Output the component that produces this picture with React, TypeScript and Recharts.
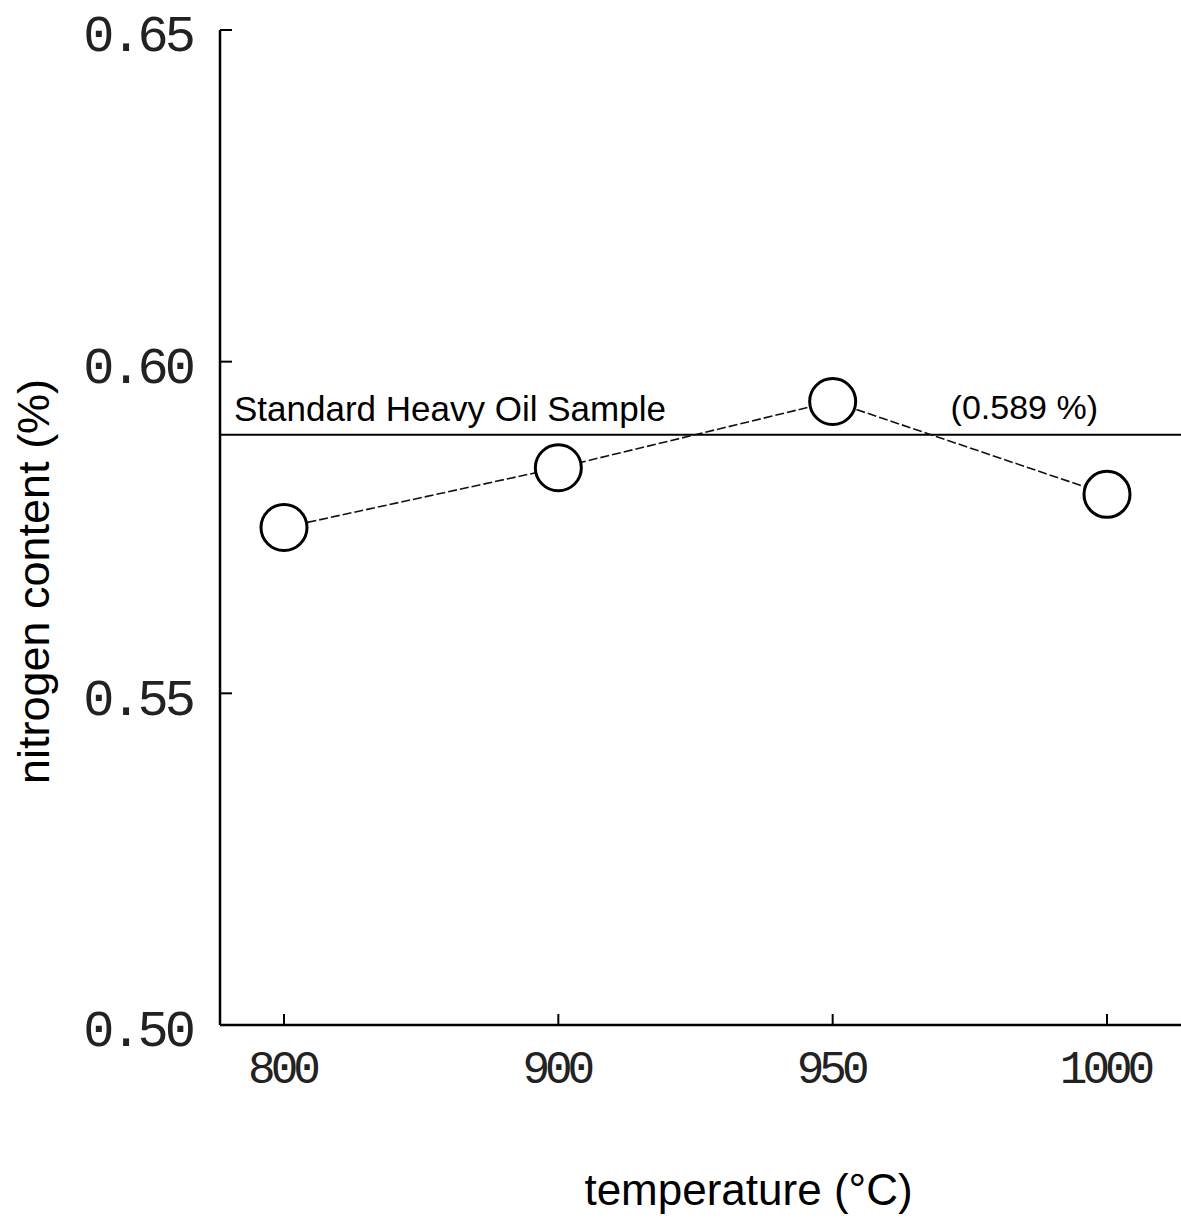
import { LineChart, Line, XAxis, YAxis, ReferenceLine, Label } from 'recharts';

const temperatures = ['800', '900', '950', '1000'];
const nitrogen = [0.575, 0.584, 0.594, 0.58];
const yTicks = [0.5, 0.55, 0.6, 0.65];
const standardValue = 0.589;

const data = temperatures.map((t, i) => ({ temp: t, n: nitrogen[i] }));

const sans = '"Liberation Sans", Arial, sans-serif';
const mono = '"Liberation Mono", "DejaVu Sans Mono", monospace';

const OpenDot = (props: any) => {
  const { cx, cy } = props;
  return <circle cx={cx} cy={cy} r={23} fill='#fff' stroke='#000' strokeWidth={3} />;
};

const App = () => {
  return (
    <div style={{ position: 'absolute', left: 0, top: 0, background: '#fff' }}>
      <LineChart width={1181} height={1220} data={data} margin={{ top: 30, right: 0, left: 0, bottom: 0 }}>
        <XAxis
          dataKey='temp'
          type='category'
          scale='point'
          padding={{ left: 64, right: 74 }}
          height={195}
          axisLine={{ stroke: '#000', strokeWidth: 2.5 }}
          tickLine={{ stroke: '#000', strokeWidth: 2 }}
          tickSize={-11}
          tickMargin={36}
          tick={{ fill: '#222', fontSize: 46, fontFamily: mono, letterSpacing: -5, dx: -2 }}
        >
          <Label
            value='temperature (°C)'
            position='insideBottom'
            offset={15}
            dx={48}
            style={{ fill: '#000', fontSize: 44, fontFamily: sans }}
          />
        </XAxis>
        <YAxis
          type='number'
          domain={[0.5, 0.65]}
          ticks={yTicks}
          width={220}
          tickFormatter={(v: number) => v.toFixed(2)}
          axisLine={{ stroke: '#000', strokeWidth: 2.5 }}
          tickLine={{ stroke: '#000', strokeWidth: 2 }}
          tickSize={-12}
          tickMargin={40}
          tick={{ fill: '#222', fontSize: 52, fontFamily: mono, letterSpacing: -4, dy: 3 }}
        >
          <Label
            value='nitrogen content (%)'
            angle={-90}
            position='center'
            dx={-77}
            dy={54}
            style={{ fill: '#000', fontSize: 45, fontFamily: sans }}
          />
        </YAxis>
        <ReferenceLine y={standardValue} stroke='#000' strokeWidth={2}>
          <Label
            value='Standard Heavy Oil Sample'
            position='insideBottomLeft'
            offset={14}
            style={{ fill: '#000', fontSize: 35, fontFamily: sans }}
          />
          <Label
            value='(0.589 %)'
            position='insideBottomRight'
            offset={16}
            dx={-67}
            style={{ fill: '#000', fontSize: 34, fontFamily: sans }}
          />
        </ReferenceLine>
        <Line
          dataKey='n'
          type='linear'
          stroke='#111'
          strokeWidth={1.6}
          strokeDasharray='9 3'
          dot={<OpenDot />}
          activeDot={false}
          isAnimationActive={false}
        />
      </LineChart>
    </div>
  );
};

export default App;
